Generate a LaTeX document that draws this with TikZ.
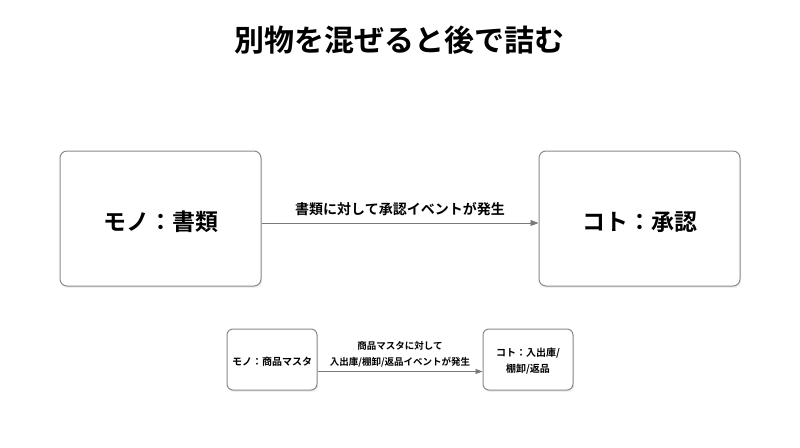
\documentclass[tikz,border=0pt]{standalone}
\usepackage{fontspec}
\setmainfont{Noto Sans CJK JP}[BoldFont={Noto Sans CJK JP Bold}]
\usetikzlibrary{arrows.meta,shadows}
\definecolor{boxline}{HTML}{8A8A8A}
\definecolor{arrowc}{HTML}{7A7A7A}
\tikzset{
  box/.style={draw=boxline, line width=1pt, rounded corners=7pt, fill=white,
    drop shadow={opacity=0.12, shadow xshift=1pt, shadow yshift=-2pt},
    inner sep=0pt},
  conn/.style={draw=arrowc, line width=0.9pt, -{Triangle[length=8pt,width=6pt]}},
  lbl/.style={font=\bfseries, align=center, inner sep=0pt}
}
\begin{document}
\begin{tikzpicture}[x=1pt,y=-1pt]
\useasboundingbox[fill=white] (0,0) rectangle (800,447);
\node[lbl, font=\bfseries\fontsize{30}{34}\selectfont] (title) at (399,40) {別物を混ぜると後で詰む};
\node[box, minimum width=201pt, minimum height=135pt] (mono) at (160.5,218.5) {};
\node[lbl, font=\bfseries\fontsize{23}{26}\selectfont] (monot) at ([yshift=-3.5pt]mono.center) {モノ：書類};
\node[box, minimum width=201pt, minimum height=135pt] (koto) at (639.5,218.5) {};
\node[lbl, font=\bfseries\fontsize{23}{26}\selectfont] (kotot) at ([yshift=-3.5pt]koto.center) {コト：承認};
\draw[conn] ([yshift=-4.5pt]mono.east) -- ([yshift=-4.5pt]koto.west);
\node[lbl, font=\bfseries\fontsize{14}{16}\selectfont] (l1) at (400,209.5) {書類に対して承認イベントが発生};
\node[box, rounded corners=6pt, minimum width=90pt, minimum height=61pt] (mono2) at (272,359.5) {};
\node[lbl, font=\bfseries\fontsize{10}{12}\selectfont] (mono2t) at ([yshift=-2pt]mono2.center) {モノ：商品マスタ};
\node[box, rounded corners=6pt, minimum width=90pt, minimum height=61pt] (koto2) at (528,359.5) {};
\node[lbl, font=\bfseries\fontsize{10}{16}\selectfont] (koto2t) at ([yshift=-1.5pt]koto2.center) {コト：入出庫/\\棚卸/返品};
\draw[conn, line width=0.8pt, -{Triangle[length=7pt,width=5pt]}] ([yshift=-12pt]mono2.east) -- ([yshift=-12pt]koto2.west);
\node[lbl, font=\bfseries\fontsize{9.5}{16}\selectfont] (l2) at (400,354.5) {商品マスタに対して\\入出庫/棚卸/返品イベントが発生};
\end{tikzpicture}
\end{document}
